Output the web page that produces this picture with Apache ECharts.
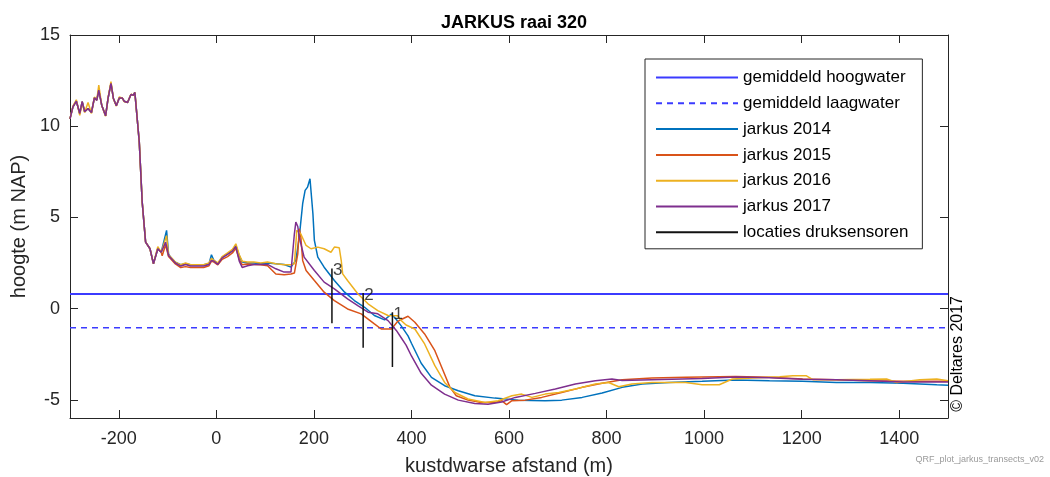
<!DOCTYPE html>
<html>
<head>
<meta charset="utf-8">
<script src="https://cdn.jsdelivr.net/npm/echarts@6/dist/echarts.min.js"></script>
<style>
html,body{margin:0;padding:0;background:#fff;}
#chart{width:1050px;height:477px;}
</style>
</head>
<body>
<div id="chart"></div>
<script>
// ---- data ----
const xTicks = [-200, 0, 200, 400, 600, 800, 1000, 1200, 1400];
const yTicks = [-5, 0, 5, 10, 15];

const hoogwater = 0.8;   // gemiddeld hoogwater (m NAP)
const laagwater = -1.05; // gemiddeld laagwater (m NAP)

// dune part (nearly identical for all years)
const duneCommon = [[-300,10.4],[-294,11.06],[-287,11.37],[-280,10.7],[-275,11.34],[-270,10.8],[-263,10.97],[-256,10.75],[-250,11.55],[-245,11.43],[-241,11.98],[-235,11.15],[-227,10.57],[-222,11.52],[-216,12.35],[-211,11.52],[-205,11.12],[-199,11.55],[-193,11.55],[-189,11.37],[-182,11.3],[-175,11.74],[-170,11.7],[-167,11.85],[-163,11.8],[-158,9.14],[-152,5.84],[-145,3.64],[-136,3.28],[-129,2.46],[-120,3.28],[-113,3.09]];
const dune2016 = [[-300,10.4],[-294,11.1],[-287,11.45],[-280,10.6],[-275,11.3],[-270,10.75],[-263,11.3],[-256,10.7],[-250,11.6],[-245,11.45],[-241,12.25],[-235,11.15],[-227,10.55],[-222,11.55],[-216,12.45],[-211,11.5],[-205,11.1],[-199,11.6],[-193,11.55],[-189,11.35],[-182,11.3],[-175,11.75],[-170,11.7],[-167,11.85],[-163,11.8],[-158,9.14],[-152,5.84],[-145,3.64],[-136,3.28],[-129,2.46],[-120,3.4],[-113,3.09]];

const jarkus2014 = [[-111,3.0],[-102,4.29],[-98,3.0],[-94,2.82],[-84,2.54],[-73,2.4],[-63,2.46],[-53,2.4],[-39,2.4],[-26,2.4],[-15,2.46],[-10,2.95],[-5,2.64],[3,2.46],[12,2.82],[23,3.0],[33,3.2],[40,3.46],[47,2.9],[53,2.55],[64,2.5],[77,2.5],[91,2.46],[105,2.5],[122,2.46],[139,2.42],[153,2.27],[163,2.64],[170,3.92],[177,5.75],[182,6.48],[187,6.66],[192,7.12],[198,5.2],[201,3.74],[208,2.82],[221,2.27],[242,1.54],[263,0.9],[283,0.44],[304,0.07],[324,-0.38],[345,-0.62],[359,-0.3],[369,-0.6],[379,-0.95],[393,-1.5],[400,-1.9],[420,-3.0],[441,-3.77],[468,-4.23],[496,-4.51],[530,-4.78],[571,-4.91],[619,-5.02],[674,-5.05],[708,-5.02],[750,-4.87],[791,-4.63],[832,-4.32],[873,-4.14],[928,-4.05],[996,-3.99],[1065,-3.92],[1134,-3.96],[1202,-3.99],[1271,-4.05],[1340,-4.05],[1408,-4.1],[1477,-4.18],[1500,-4.2]];

const jarkus2015 = [[-111,2.9],[-104,3.5],[-98,2.85],[-94,2.75],[-84,2.45],[-73,2.25],[-63,2.3],[-53,2.25],[-39,2.25],[-26,2.25],[-15,2.35],[-10,2.6],[-5,2.55],[3,2.4],[12,2.7],[23,2.85],[33,3.05],[40,3.3],[47,2.7],[53,2.4],[64,2.45],[77,2.42],[91,2.4],[105,2.35],[122,1.9],[139,1.85],[153,1.9],[160,1.95],[167,3.0],[170,4.38],[173,4.0],[177,2.64],[184,2.09],[201,1.54],[221,0.9],[242,0.44],[269,-0.02],[297,-0.29],[324,-0.84],[338,-1.12],[359,-1.12],[372,-0.7],[379,-0.6],[393,-0.42],[407,-0.75],[427,-1.39],[448,-2.31],[465,-3.41],[479,-4.32],[492,-4.78],[516,-5.02],[543,-5.15],[571,-5.15],[585,-5.05],[595,-5.27],[606,-5.05],[633,-5.02],[667,-4.87],[708,-4.6],[750,-4.32],[791,-4.1],[832,-3.9],[893,-3.81],[962,-3.77],[1065,-3.72],[1134,-3.77],[1202,-3.86],[1271,-3.9],[1340,-3.96],[1408,-3.99],[1500,-3.99]];

const jarkus2016 = [[-111,3.0],[-102,4.0],[-98,2.95],[-94,2.85],[-84,2.55],[-73,2.4],[-63,2.5],[-53,2.4],[-39,2.4],[-26,2.4],[-15,2.5],[-10,2.75],[-5,2.65],[3,2.5],[12,2.85],[23,3.05],[33,3.25],[40,3.55],[47,2.95],[53,2.6],[64,2.55],[77,2.55],[91,2.5],[105,2.55],[122,2.46],[139,2.4],[153,2.4],[160,2.46],[165,4.29],[173,4.1],[184,3.46],[194,3.28],[208,3.37],[221,3.28],[235,3.09],[242,3.37],[252,3.33],[256,2.64],[259,1.9],[269,1.54],[290,0.81],[311,0.26],[331,-0.11],[352,-0.38],[372,-0.4],[379,-0.65],[389,-0.9],[407,-1.12],[427,-1.94],[448,-3.13],[468,-4.05],[489,-4.6],[516,-4.96],[551,-5.15],[578,-5.05],[606,-4.78],[626,-4.69],[647,-4.87],[674,-4.69],[702,-4.6],[736,-4.41],[777,-4.14],[804,-4.05],[825,-4.29],[852,-4.14],[893,-4.05],[962,-4.05],[996,-4.18],[1031,-4.18],[1058,-3.86],[1100,-3.81],[1155,-3.74],[1182,-3.68],[1209,-3.68],[1223,-3.9],[1271,-3.9],[1340,-3.88],[1374,-3.86],[1395,-4.05],[1442,-3.9],[1477,-3.86],[1500,-3.96]];

const jarkus2017 = [[-111,3.0],[-104,3.64],[-98,2.91],[-94,2.82],[-84,2.5],[-73,2.33],[-63,2.42],[-53,2.33],[-39,2.33],[-26,2.33],[-15,2.42],[-10,2.64],[-5,2.6],[3,2.42],[12,2.78],[23,2.97],[33,3.15],[40,3.4],[47,2.6],[53,2.25],[64,2.35],[77,2.42],[91,2.42],[105,2.42],[122,2.18],[139,2.0],[153,2.0],[160,4.1],[163,4.74],[167,4.5],[170,3.92],[180,2.82],[201,2.09],[221,1.45],[242,1.08],[269,0.53],[290,0.16],[311,-0.2],[331,-0.29],[352,-0.66],[369,-1.2],[379,-1.6],[389,-2.0],[400,-2.6],[420,-3.55],[441,-4.2],[468,-4.69],[496,-5.02],[530,-5.2],[557,-5.24],[585,-5.12],[613,-4.87],[654,-4.65],[695,-4.41],[736,-4.14],[777,-3.96],[811,-3.86],[832,-3.95],[893,-3.9],[996,-3.83],[1065,-3.75],[1134,-3.79],[1202,-3.88],[1271,-3.9],[1340,-3.96],[1408,-4.03],[1500,-4.03]];

// pressure sensor locations: name, x, top, bottom
const sensorNames = ['3', '2', '1'];
const sensorX = [237, 301, 361];
const sensorTop = [2.2, 0.85, -0.2];
const sensorBottom = [-0.8, -2.15, -3.2];

const xRange = [-300, 1500];
const yRange = [-6, 15];

// ---- chart ----
const FONT = 'Liberation Sans';
const AXC = '#262626';
const chart = echarts.init(document.getElementById('chart'), null, {renderer: 'canvas'});

function profile(name, color, data) {
  return {
    name: name, type: 'line', data: data, symbol: 'none', showSymbol: false,
    lineStyle: {color: color, width: 1.5}, itemStyle: {color: color},
    animation: false, z: 3
  };
}

const series = [
  {name: 'gemiddeld hoogwater', type: 'line', symbol: 'none',
   data: [[xRange[0], hoogwater], [xRange[1], hoogwater]],
   lineStyle: {color: '#3b3bff', width: 2}, itemStyle: {color: '#3b3bff'}, z: 2},
  {name: 'gemiddeld laagwater', type: 'line', symbol: 'none',
   data: [[xRange[0], laagwater], [xRange[1], laagwater]],
   lineStyle: {color: '#3b3bff', width: 1.5, type: [6, 5]}, itemStyle: {color: '#3b3bff'}, z: 2},
  profile('jarkus 2014', '#0072BD', duneCommon.concat(jarkus2014)),
  profile('jarkus 2015', '#D95319', duneCommon.concat(jarkus2015)),
  profile('jarkus 2016', '#EDB120', dune2016.concat(jarkus2016)),
  profile('jarkus 2017', '#7E2F8E', duneCommon.concat(jarkus2017))
];
sensorX.forEach(function (sx, i) {
  series.push({
    name: 'locaties druksensoren', type: 'line', symbol: 'none', z: 4,
    lineStyle: {color: '#111', width: 1.5}, itemStyle: {color: '#111'},
    data: [[sx, sensorTop[i]], [sx, sensorBottom[i]]]
  });
});
// sensor number labels (not in legend)
series.push({
  name: 'sensor labels', type: 'scatter', symbolSize: 0, z: 5, silent: true,
  data: sensorX.map(function (sx, i) { return {value: [sx, sensorTop[i]], name: sensorNames[i]}; }),
  label: {show: true, formatter: '{b}', position: 'right', offset: [-4, 2],
    fontFamily: FONT, fontSize: 17, color: '#111'},
  itemStyle: {color: 'transparent'}
});

chart.setOption({
  animation: false,
  backgroundColor: '#fff',
  title: {text: 'JARKUS raai 320', left: 509, textAlign: 'center', top: 9,
    textStyle: {fontFamily: FONT, fontSize: 18, fontWeight: 'bold', color: '#000'}},
  grid: {left: 70, right: 102, top: 35, bottom: 59, containLabel: false, outerBoundsMode: 'none'},
  legend: {
    orient: 'vertical', left: 645, top: 59,
    data: ['gemiddeld hoogwater', 'gemiddeld laagwater', 'jarkus 2014', 'jarkus 2015', 'jarkus 2016', 'jarkus 2017', 'locaties druksensoren'],
    itemWidth: 82, itemHeight: 16, itemGap: 8.8,
    padding: [10, 14, 8, 10],
    borderColor: AXC, borderWidth: 1, backgroundColor: '#fff',
    itemStyle: {opacity: 0},
    textStyle: {fontFamily: FONT, fontSize: 17, color: '#000'},
    selectedMode: false
  },
  xAxis: [
    {type: 'value', min: xRange[0], max: xRange[1], position: 'bottom',
     name: 'kustdwarse afstand (m)', nameLocation: 'middle', nameGap: 38,
     nameTextStyle: {fontFamily: FONT, fontSize: 20, color: AXC},
     axisLine: {show: true, onZero: false, lineStyle: {color: AXC, width: 1}},
     axisTick: {show: true, inside: true, length: 8, customValues: xTicks, lineStyle: {color: AXC}},
     axisLabel: {show: true, customValues: xTicks, formatter: function (v) { return String(v); },
       fontFamily: FONT, fontSize: 18, color: AXC, margin: 12},
     splitLine: {show: false}},
    {type: 'value', min: xRange[0], max: xRange[1], position: 'top',
     axisLine: {show: true, onZero: false, lineStyle: {color: AXC, width: 1}},
     axisTick: {show: true, inside: true, length: 8, customValues: xTicks, lineStyle: {color: AXC}},
     axisLabel: {show: false}, splitLine: {show: false}}
  ],
  yAxis: [
    {type: 'value', min: yRange[0], max: yRange[1], position: 'left',
     name: 'hoogte (m NAP)', nameLocation: 'middle', nameGap: 36,
     nameTextStyle: {fontFamily: FONT, fontSize: 20, color: AXC},
     axisLine: {show: true, onZero: false, lineStyle: {color: AXC, width: 1}},
     axisTick: {show: true, inside: true, length: 8, customValues: yTicks, lineStyle: {color: AXC}},
     axisLabel: {show: true, customValues: yTicks, formatter: function (v) { return String(v); },
       fontFamily: FONT, fontSize: 18, color: AXC, margin: 10},
     splitLine: {show: false}},
    {type: 'value', min: yRange[0], max: yRange[1], position: 'right',
     axisLine: {show: true, onZero: false, lineStyle: {color: AXC, width: 1}},
     axisTick: {show: true, inside: true, length: 8, customValues: yTicks, lineStyle: {color: AXC}},
     axisLabel: {show: false}, splitLine: {show: false}}
  ],
  graphic: [
    {type: 'text', left: 950, top: 296, rotation: Math.PI / 2,
     style: {text: '© Deltares 2017', fontFamily: FONT, fontSize: 16, fill: '#000'}},
    {type: 'text', right: 6, top: 455,
     style: {text: 'QRF_plot_jarkus_transects_v02', fontFamily: FONT, fontSize: 9, fill: '#9a9a9a'}}
  ],
  series: series
});
</script>
</body>
</html>
